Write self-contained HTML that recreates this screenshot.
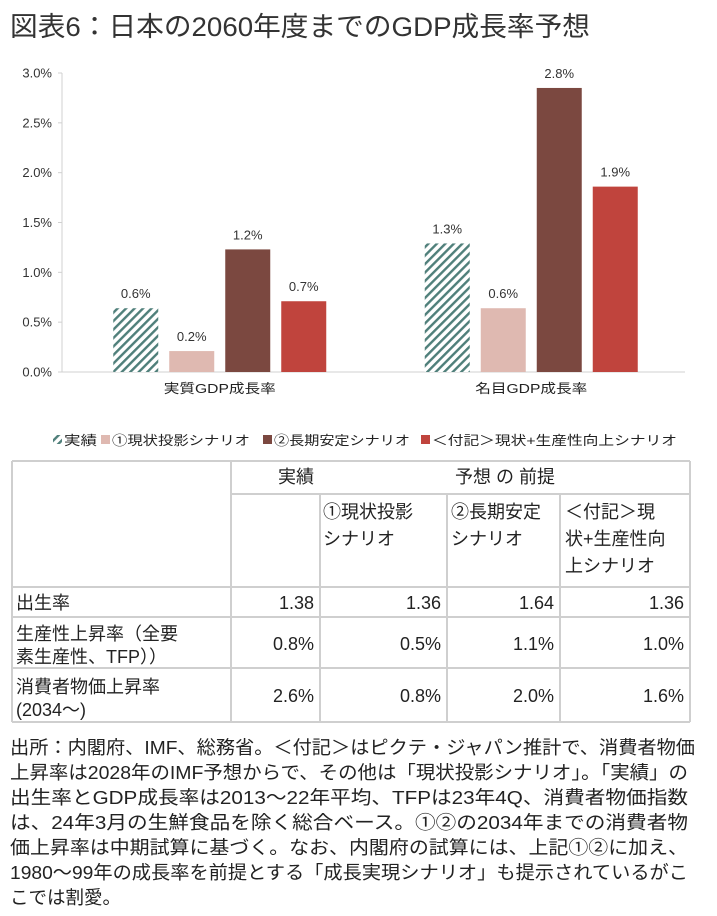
<!DOCTYPE html>
<html><head><meta charset="utf-8"><style>
html,body{margin:0;padding:0;background:#fff;}
svg{display:block;font-family:"Liberation Sans","Noto Sans CJK JP",sans-serif;}
</style></head><body>
<svg id="root" width="717" height="916" viewBox="0 0 717 916" xmlns="http://www.w3.org/2000/svg">
<defs>
<pattern id="hatch" patternUnits="userSpaceOnUse" width="6" height="6" patternTransform="rotate(45)">
<rect width="6" height="6" fill="#fff"/><rect width="2.4" height="6" fill="#4f7f7a"/>
</pattern>
</defs>
<text x="10" y="36" font-size="27" fill="#333" textLength="580" lengthAdjust="spacingAndGlyphs">図表6：日本の2060年度までのGDP成長率予想</text>
<g id="chart"></g>
<g id="legend" font-size="13" fill="#222">
<g><rect x="53" y="435" width="9" height="9" fill="url(#hatch)"/><text x="64" y="445" textLength="33" lengthAdjust="spacingAndGlyphs">実績</text></g>
<g><rect x="101" y="435" width="9" height="9" fill="#dfb9b1"/><text x="112" y="445" textLength="138" lengthAdjust="spacingAndGlyphs">①現状投影シナリオ</text></g>
<g><rect x="263" y="435" width="9" height="9" fill="#7b4840"/><text x="274" y="445" textLength="136" lengthAdjust="spacingAndGlyphs">②長期安定シナリオ</text></g>
<g><rect x="421" y="435" width="9" height="9" fill="#c0443d"/><text x="432" y="445" textLength="245" lengthAdjust="spacingAndGlyphs">＜付記＞現状+生産性向上シナリオ</text></g>
</g>
<g id="table" font-size="18" fill="#222"></g>
<g id="notes" font-size="18.5" fill="#222"></g>
</svg>
<script>
const categories = ["実質GDP成長率", "名目GDP成長率"];
const actual = [0.64, 1.29];
const scenario1 = [0.21, 0.64];
const scenario2 = [1.23, 2.85];
const scenario3 = [0.71, 1.86];
const labelsActual = ["0.6%", "1.3%"];
const labels1 = ["0.2%", "0.6%"];
const labels2 = ["1.2%", "2.8%"];
const labels3 = ["0.7%", "1.9%"];
const yTicks = [0, 0.5, 1.0, 1.5, 2.0, 2.5, 3.0];

const NS = "http://www.w3.org/2000/svg";
function mk(tag, attrs, parent, txt){const e=document.createElementNS(NS,tag);for(const k in attrs)e.setAttribute(k,attrs[k]);if(txt!==undefined)e.textContent=txt;parent.appendChild(e);return e;}
const chart = document.getElementById("chart");
const plotL=62, plotR=685, y0=372, y3=73;
const yScale = v => y0 - (v/3)*(y0-y3);
const groupW=(plotR-plotL)/categories.length;
const xCenter = i => plotL + groupW*(i+0.5) + 2;
const axis = mk("line",{x1:plotL,y1:y3,x2:plotL,y2:y0,stroke:"#d0d0d0"},chart);


const xaxis = mk("line",{x1:plotL,y1:y0,x2:plotR,y2:y0,stroke:"#d0d0d0"},chart);


yTicks.forEach(t=>{
  const y=yScale(t);
  const tk=mk("line",{x1:plotL-4,y1:y,x2:plotL,y2:y,stroke:"#d0d0d0"},chart);
  
  
  const lb=mk("text",{x:52,y:y+4.5,"font-size":13,"text-anchor":"end",fill:"#333"},chart,t.toFixed(1)+"%");
  
  
});
const series=[
  {vals:actual,labels:labelsActual,fill:"url(#hatch)",name:"actual"},
  {vals:scenario1,labels:labels1,fill:"#dfb9b1",name:"scenario1"},
  {vals:scenario2,labels:labels2,fill:"#7b4840",name:"scenario2"},
  {vals:scenario3,labels:labels3,fill:"#c0443d",name:"scenario3"}
];
const barW=45, step=56;
categories.forEach((c,i)=>{
  const cx=xCenter(i);
  series.forEach((s,j)=>{
    const x=cx+(j-1.5)*step-barW/2;
    const y=yScale(s.vals[i]);
    const r=mk("rect",{x:x,y:y,width:barW,height:y0-y,fill:s.fill},chart);
    
    
    const t=mk("text",{x:x+barW/2,y:y-10,"font-size":13,"text-anchor":"middle",fill:"#333"},chart,s.labels[i]);
    
    
  });
  const cl=mk("text",{x:cx,y:393,"font-size":13,"text-anchor":"middle",fill:"#222",textLength:112,lengthAdjust:"spacingAndGlyphs"},chart,c);
  
  
});

// table
const tb=document.getElementById("table");
const colX=[12,231,320,447,560,690];
const rowY=[461,494,587,617,668,722];
colX.forEach(x=>{const l=mk("line",{x1:x,y1:rowY[0],x2:x,y2:rowY[5],stroke:"#cfcfcf","stroke-width":2},tb);});
rowY.forEach((y,k)=>{const l=mk("line",{x1:(k===1?231:12),y1:y,x2:690,y2:y,stroke:"#cfcfcf","stroke-width":2},tb);});
[320,447,560].forEach(x=>mk("line",{x1:x,y1:462,x2:x,y2:493,stroke:"#fff","stroke-width":3},tb));
mk("line",{x1:231,y1:494,x2:690,y2:494,stroke:"#cfcfcf","stroke-width":2},tb);
function tt(x,y,s,anchor,name){const e=mk("text",{x:x,y:y,"text-anchor":anchor||"start"},tb,s);return e;}
tt(314,483,"実績","end","header-actual");
tt(505,483,"予想 の 前提","middle","header-forecast");
tt(323,518,"①現状投影","start","header-scenario1");tt(323,545,"シナリオ","start","header-scenario1");
tt(451,518,"②長期安定","start","header-scenario2");tt(451,545,"シナリオ","start","header-scenario2");
tt(565,518,"＜付記＞現","start","header-scenario3");tt(565,545,"状+生産性向","start","header-scenario3");tt(565,572,"上シナリオ","start","header-scenario3");
tt(16,609,"出生率","start","row-label-birth");
tt(16,640,"生産性上昇率（全要","start","row-label-tfp");tt(16,663,"素生産性、TFP））","start","row-label-tfp");
tt(16,693,"消費者物価上昇率","start","row-label-cpi");tt(16,716,"(2034～)","start","row-label-cpi");
const rowsVals=[["1.38","1.36","1.64","1.36"],["0.8%","0.5%","1.1%","1.0%"],["2.6%","0.8%","2.0%","1.6%"]];
const rowBase=[609,650,702];
rowsVals.forEach((r,i)=>r.forEach((v,j)=>tt(colX[j+2]-6,rowBase[i],v,"end","table-cell")));

// notes
const notes=["出所：内閣府、IMF、総務省。＜付記＞はピクテ・ジャパン推計で、消費者物価",
"上昇率は2028年のIMF予想からで、その他は「現状投影シナリオ」。「実績」の",
"出生率とGDP成長率は2013～22年平均、TFPは23年4Q、消費者物価指数",
"は、24年3月の生鮮食品を除く総合ベース。①②の2034年までの消費者物",
"価上昇率は中期試算に基づく。なお、内閣府の試算には、上記①②に加え、",
"1980～99年の成長率を前提とする「成長実現シナリオ」も提示されているがこ",
"こでは割愛。"];
const nb=document.getElementById("notes");
notes.forEach((s,i)=>{
  const a={x:10,y:754+i*25};
  if(i<6){a.textLength=(i===0?685:678);a.lengthAdjust="spacingAndGlyphs";}
  const e=mk("text",a,nb,s);
  
  
});
</script>
</body></html>
